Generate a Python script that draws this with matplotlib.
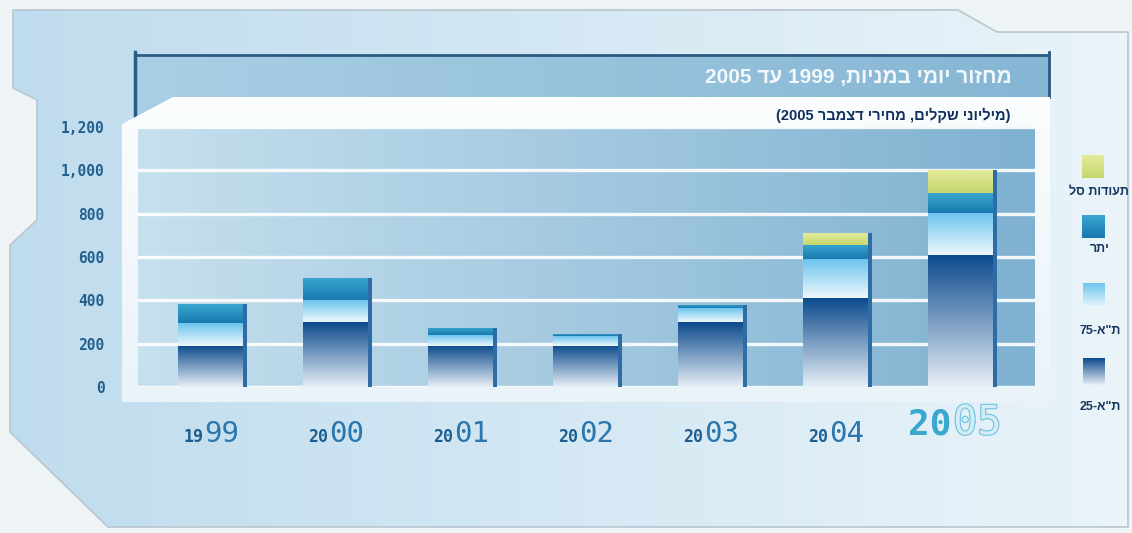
import re

import numpy as np
import matplotlib
matplotlib.use("Agg")
import matplotlib.pyplot as plt
import matplotlib.patheffects as pe
from matplotlib.colors import LinearSegmentedColormap
from matplotlib.patches import Polygon, Rectangle

W, H = 1132, 533

years = ["1999", "2000", "2001", "2002", "2003", "2004", "2005"]
ta25 = [190, 300, 190, 190, 300, 410, 610]
ta75 = [105, 100, 50, 45, 63, 180, 195]
yeter = [87, 105, 33, 10, 15, 65, 90]
etf = [0, 0, 0, 0, 0, 55, 105]
series_names = ['ת"א-25', 'ת"א-75', "יתר", "תעודות סל"]
yticks = [0, 200, 400, 600, 800, 1000, 1200]

title = "מחזור יומי במניות, 1999 עד 2005"
subtitle = "(מיליוני שקלים, מחירי דצמבר 2005)"

HEB = ["Liberation Sans Narrow", "Liberation Sans", "DejaVu Sans"]
MONO = "DejaVu Sans Mono"

# (top colour, bottom colour) per series
GRADS = [("#0b4a8c", "#e8eff7"),
         ("#6cc4ee", "#eef8fd"),
         ("#3aa6d1", "#1879ae"),
         ("#e4eb9c", "#c6d76c")]
SHADOW = "#2d6ca4"


def visual(s):
    # matplotlib has no bidi: lay Hebrew out right-to-left, keep digit runs intact
    mirror = {"(": ")", ")": "("}
    out = "".join(mirror.get(c, c) for c in reversed(s))
    return re.sub(r"\d+", lambda m: m.group(0)[::-1], out)


def gradient(ax, patch, c0, c1, vertical=True, zorder=1):
    """Fill ``patch`` with a linear gradient from c0 (top/left) to c1."""
    cmap = LinearSegmentedColormap.from_list("g", [c0, c1])
    g = np.linspace(0, 1, 256)
    arr = g[:, None] if vertical else g[None, :]
    ext = patch.get_extents().transformed(ax.transData.inverted())
    x0, x1 = ext.x0, ext.x1
    y0, y1 = sorted((ext.y0, ext.y1))
    if ax.yaxis_inverted():
        extent = [x0, x1, y1, y0]
    else:
        extent = [x0, x1, y0, y1]
    im = ax.imshow(arr, cmap=cmap, extent=extent, aspect="auto",
                   interpolation="bilinear", zorder=zorder)
    im.set_clip_path(patch)
    return im


fig = plt.figure(figsize=(W / 100, H / 100), dpi=100, facecolor="#eef3f6")

# ---- decorative frame, drawn in pixel coordinates ----
bg = fig.add_axes([0, 0, 1, 1])
bg.set_xlim(0, W)
bg.set_ylim(H, 0)
bg.axis("off")

outer = Polygon([(13, 10), (958, 10), (997, 32), (1128, 32), (1128, 527),
                 (108, 527), (10, 432), (10, 245), (37, 220), (37, 100),
                 (13, 88)], closed=True, fc="none", ec="#b9c6ce", lw=1.2, zorder=2)
bg.add_patch(outer)
gradient(bg, outer, "#bfdcee", "#eaf4f9", vertical=False, zorder=1)

banner = Rectangle((135, 55), 914, 63, fc="none", ec="none")
bg.add_patch(banner)
gradient(bg, banner, "#a9cfe4", "#86b6d4", vertical=False, zorder=3)
bg.plot([135, 1049], [55, 55], color="#2b5b84", lw=2, zorder=4)
bg.plot([135, 135], [52, 118], color="#2b5b84", lw=2.5, zorder=4)
bg.plot([1049, 1049], [52, 97], color="#2b5b84", lw=2, zorder=4)

panel = Polygon([(122, 402), (122, 124), (173, 97), (1050, 97), (1050, 402)],
                closed=True, fc="none", ec="none")
bg.add_patch(panel)
gradient(bg, panel, "#fbfdfe", "#e9f3f8", vertical=True, zorder=4)

bg.text(1012, 77, visual(title), ha="right", va="center", color="#f2f8fb",
        fontsize=15, fontweight="bold", family=HEB, zorder=5)
bg.text(1010, 115, visual(subtitle), ha="right", va="center", color="#0f2f5c",
        fontsize=10.5, fontweight="bold", family=HEB, zorder=5)

# legend: small gradient squares with the series name underneath
legend_boxes = [(1083, 358, 22, 27, 407), (1083, 283, 22, 25, 331),
                (1082, 215, 23, 23, 249), (1082, 155, 22, 23, 192)]
for name, (c0, c1), (lx, ly, lw, lh, ty) in zip(series_names, GRADS, legend_boxes):
    sq = Rectangle((lx, ly), lw, lh, fc="none", ec="none")
    bg.add_patch(sq)
    gradient(bg, sq, c0, c1, vertical=True, zorder=5)
    bg.text(lx + lw / 2 + 6, ty, visual(name), ha="center", va="center",
            color="#17375f", fontsize=9, fontweight="bold", family=HEB, zorder=5)

# ---- the chart itself ----
ax = fig.add_axes([138 / W, 1 - 387 / H, (1035 - 138) / W, (387 - 127) / H])
ax.set_zorder(2)
ax.patch.set_visible(False)
xlim = ((138 - 210) / 125, (1035 - 210) / 125)
ax.set_xlim(*xlim)
ax.set_ylim(0, 1200)

cm_area = LinearSegmentedColormap.from_list("area", ["#c6e0ee", "#7fb1d1"])
ax.imshow(np.linspace(0, 1, 256)[None, :], cmap=cm_area, extent=[0, 1, 0, 1],
          transform=ax.transAxes, aspect="auto", zorder=0)

ax.set_axisbelow(True)
ax.set_yticks(yticks)
ax.set_yticklabels([f"{v:,}" for v in yticks], family=MONO, fontweight="bold",
                   fontsize=10.5, color="#22608e")
ax.grid(axis="y", color="white", lw=2.4, alpha=0.9)
ax.tick_params(axis="y", length=0, pad=24)
ax.set_xticks([])
for s in ax.spines.values():
    s.set_visible(False)

x = np.arange(len(years))
bw = 0.52
sw = 0.035
stack = [ta25, ta75, yeter, etf]
totals = np.sum(stack, axis=0)
ax.bar(x + bw / 2 + sw / 2, totals, width=sw, color=SHADOW, zorder=3)
bottom = np.zeros(len(years))
for vals, (c0, c1) in zip(stack, GRADS):
    bars = ax.bar(x, vals, bottom=bottom, width=bw, color="none", zorder=3)
    for rect, v in zip(bars, vals):
        if v > 0:
            gradient(ax, rect, c0, c1, vertical=True, zorder=4)
    bottom += np.array(vals)
ax.set_xlim(*xlim)
ax.set_ylim(0, 1200)

# year labels: small century digits, large year digits, the last year highlighted
for i, yr in enumerate(years):
    if i < len(years) - 1:
        ax.annotate(yr[:2], xy=(i, 0), xycoords=("data", "axes fraction"),
                    xytext=(-5, -39.5), textcoords="offset points", ha="right",
                    va="baseline", family=MONO, fontweight="bold", fontsize=12,
                    color="#1d5d90", annotation_clip=False)
        ax.annotate(yr[2:], xy=(i, 0), xycoords=("data", "axes fraction"),
                    xytext=(-4, -39.5), textcoords="offset points", ha="left",
                    va="baseline", family=MONO, fontsize=21,
                    color="#2a76ad", annotation_clip=False)
    else:
        ax.annotate(yr[:2], xy=(i, 0), xycoords=("data", "axes fraction"),
                    xytext=(-6, -34), textcoords="offset points", ha="right",
                    va="baseline", family=MONO, fontweight="bold", fontsize=26,
                    color="#39a8cf", annotation_clip=False)
        t = ax.annotate(yr[2:], xy=(i, 0), xycoords=("data", "axes fraction"),
                        xytext=(-5, -34), textcoords="offset points", ha="left",
                        va="baseline", family=MONO, fontsize=29,
                        color="#d2edf7", annotation_clip=False)
        t.set_path_effects([pe.withStroke(linewidth=1.6, foreground="#6fc1dd")])

fig.savefig("out.png", dpi=100, facecolor=fig.get_facecolor())
